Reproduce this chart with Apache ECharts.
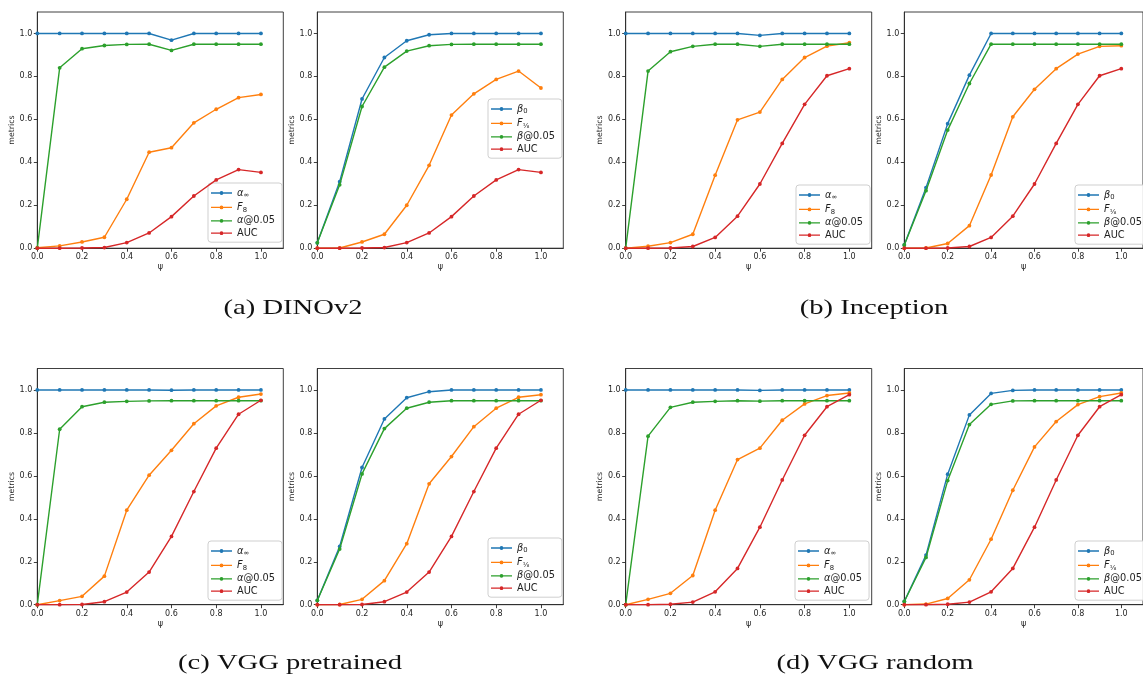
<!DOCTYPE html>
<html>
<head>
<meta charset="utf-8">
<script src="https://cdn.jsdelivr.net/npm/echarts@6/dist/echarts.min.js"></script>
<style>
html,body{margin:0;padding:0;background:#fff;}
#chart{width:1143px;height:679px;}
</style>
</head>
<body>
<div id="chart"></div>
<script>
// ---------------- data ----------------
const psi = [0.0, 0.1, 0.2, 0.3, 0.4, 0.5, 0.6, 0.7, 0.8, 0.9, 1.0];
const tickValues = [0.0, 0.2, 0.4, 0.6, 0.8, 1.0];

const leftNames  = ['α∞', 'F8', 'α@0.05', 'AUC'];
const rightNames = ['β0', 'F1/8', 'β@0.05', 'AUC'];
const captions = ['(a) DINOv2', '(b) Inception', '(c) VGG pretrained', '(d) VGG random'];

// (a) DINOv2
const dino_alphaInf  = [1, 1, 1, 1, 1, 1, 0.969, 1, 1, 1, 1];
const dino_F8        = [0.002, 0.011, 0.029, 0.051, 0.228, 0.447, 0.468, 0.584, 0.647, 0.701, 0.716];
const dino_alpha005  = [0, 0.840, 0.929, 0.944, 0.949, 0.950, 0.921, 0.950, 0.950, 0.950, 0.950];
const dino_AUC       = [0, 0, 0.001, 0.003, 0.026, 0.071, 0.147, 0.243, 0.318, 0.366, 0.353];
const dino_beta0     = [0.025, 0.310, 0.695, 0.888, 0.966, 0.994, 1, 1, 1, 1, 1];
const dino_F18       = [0, 0.001, 0.029, 0.065, 0.200, 0.386, 0.620, 0.719, 0.786, 0.825, 0.746];
const dino_beta005   = [0.025, 0.295, 0.660, 0.843, 0.918, 0.943, 0.949, 0.950, 0.950, 0.950, 0.950];

// (b) Inception
const inc_alphaInf   = [1, 1, 1, 1, 1, 1, 0.991, 1, 1, 1, 1];
const inc_F8         = [0, 0.009, 0.026, 0.065, 0.340, 0.598, 0.634, 0.786, 0.888, 0.941, 0.957];
const inc_alpha005   = [0, 0.825, 0.915, 0.940, 0.950, 0.950, 0.940, 0.950, 0.950, 0.950, 0.950];
const inc_AUC        = [0, 0, 0.001, 0.008, 0.050, 0.149, 0.299, 0.488, 0.670, 0.803, 0.836];
const inc_beta0      = [0.015, 0.282, 0.580, 0.806, 1, 1, 1, 1, 1, 1, 1];
const inc_F18        = [0, 0.001, 0.022, 0.105, 0.341, 0.612, 0.740, 0.836, 0.904, 0.940, 0.943];
const inc_beta005    = [0.015, 0.268, 0.550, 0.767, 0.950, 0.950, 0.950, 0.950, 0.950, 0.950, 0.950];

// (c) VGG pretrained
const vggp_alphaInf  = [1, 1, 1, 1, 1, 1, 0.999, 1, 1, 1, 1];
const vggp_F8        = [0, 0.019, 0.039, 0.133, 0.440, 0.603, 0.719, 0.843, 0.926, 0.966, 0.981];
const vggp_alpha005  = [0, 0.817, 0.922, 0.943, 0.947, 0.949, 0.950, 0.950, 0.950, 0.950, 0.950];
const vggp_AUC       = [0, 0, 0.001, 0.014, 0.059, 0.152, 0.318, 0.527, 0.729, 0.887, 0.952];
const vggp_beta0     = [0.020, 0.271, 0.639, 0.865, 0.964, 0.992, 1, 1, 1, 1, 1];
const vggp_F18       = [0, 0.001, 0.025, 0.112, 0.284, 0.563, 0.690, 0.829, 0.915, 0.966, 0.978];
const vggp_beta005   = [0.020, 0.259, 0.609, 0.820, 0.915, 0.943, 0.950, 0.950, 0.950, 0.950, 0.950];

// (d) VGG random
const vggr_alphaInf  = [1, 1, 1, 1, 1, 1, 0.998, 1, 1, 1, 1];
const vggr_F8        = [0, 0.025, 0.053, 0.136, 0.440, 0.676, 0.729, 0.859, 0.935, 0.974, 0.986];
const vggr_alpha005  = [0, 0.785, 0.919, 0.943, 0.947, 0.950, 0.948, 0.950, 0.950, 0.950, 0.950];
const vggr_AUC       = [0, 0, 0.002, 0.012, 0.060, 0.169, 0.361, 0.581, 0.789, 0.922, 0.978];
const vggr_beta0     = [0.015, 0.231, 0.608, 0.884, 0.984, 0.998, 1, 1, 1, 1, 1];
const vggr_F18       = [0, 0.003, 0.029, 0.116, 0.305, 0.533, 0.735, 0.853, 0.932, 0.969, 0.986];
const vggr_beta005   = [0.015, 0.220, 0.578, 0.839, 0.933, 0.949, 0.950, 0.950, 0.950, 0.950, 0.950];

// ---------------- layout / style ----------------
const colors = ['#1f77b4', '#ff7f0e', '#2ca02c', '#d62728'];
const textColor = '#1e1e1e';
const gridLefts = [37.3, 317.3, 625.7, 904.3];
const gridTops = [12, 368.5];
const gridW = 246, gridH = 236.2;

const panels = [
  { row: 0, col: 0, names: leftNames,  values: [dino_alphaInf, dino_F8, dino_alpha005, dino_AUC], leg: [208, 183] },
  { row: 0, col: 1, names: rightNames, values: [dino_beta0, dino_F18, dino_beta005, dino_AUC],    leg: [488, 99] },
  { row: 0, col: 2, names: leftNames,  values: [inc_alphaInf, inc_F8, inc_alpha005, inc_AUC],     leg: [796, 185] },
  { row: 0, col: 3, names: rightNames, values: [inc_beta0, inc_F18, inc_beta005, inc_AUC],        leg: [1075, 185] },
  { row: 1, col: 0, names: leftNames,  values: [vggp_alphaInf, vggp_F8, vggp_alpha005, vggp_AUC], leg: [208, 541] },
  { row: 1, col: 1, names: rightNames, values: [vggp_beta0, vggp_F18, vggp_beta005, vggp_AUC],    leg: [488, 538] },
  { row: 1, col: 2, names: leftNames,  values: [vggr_alphaInf, vggr_F8, vggr_alpha005, vggr_AUC], leg: [795, 541] },
  { row: 1, col: 3, names: rightNames, values: [vggr_beta0, vggr_F18, vggr_beta005, vggr_AUC],    leg: [1075, 541] }
];

const richLabel = {
  'α∞': '{it|α}{sub|∞}',
  'F8': '{it|F}{sub|8}',
  'α@0.05': '{it|α}{n|@0.05}',
  'AUC': '{n|AUC}',
  'β0': '{it|β}{sub|0}',
  'F1/8': '{it|F}{sub|⅛}',
  'β@0.05': '{it|β}{n|@0.05}'
};
const rich = {
  n:   { fontSize: 9.8, fontFamily: 'DejaVu Sans', color: textColor, lineHeight: 12 },
  it:  { fontSize: 9.8, fontFamily: 'DejaVu Sans', fontStyle: 'italic', color: textColor, lineHeight: 12 },
  sub: { fontSize: 6.8, fontFamily: 'DejaVu Sans', color: textColor, lineHeight: 12, padding: [5, 0, 0, 0] }
};

// legend icon: short line with a small dot in the middle (21 x 3.8 box)
const legendIcon = 'path://M0,1.25 L8.7,1.25 L8.7,2.55 L0,2.55 Z ' +
  'M12.3,1.25 L21,1.25 L21,2.55 L12.3,2.55 Z ' +
  'M8.6,1.9 A1.9,1.9 0 1 0 12.4,1.9 A1.9,1.9 0 1 0 8.6,1.9 Z';

const grid = [], xAxis = [], yAxis = [], series = [], legend = [];
const axisLineStyle = { color: '#2a2a2a', width: 0.9 };

panels.forEach((p, i) => {
  grid.push({
    left: gridLefts[p.col], top: gridTops[p.row], width: gridW, height: gridH,
    show: true, borderColor: '#2a2a2a', borderWidth: 0.9, backgroundColor: 'transparent',
    containLabel: false
  });
  xAxis.push({
    gridIndex: i, type: 'value', min: 0, max: 1.1,
    name: 'ψ', nameLocation: 'middle', nameGap: 15,
    nameTextStyle: { fontSize: 8, color: textColor, fontFamily: 'DejaVu Sans' },
    axisLine: { show: true, onZero: false, lineStyle: axisLineStyle },
    axisTick: { show: true, length: 3.5, inside: false, customValues: tickValues, lineStyle: axisLineStyle },
    axisLabel: { customValues: tickValues, fontSize: 8, margin: 5, color: textColor, fontFamily: 'DejaVu Sans',
                 formatter: v => v.toFixed(1) },
    splitLine: { show: false }
  });
  yAxis.push({
    gridIndex: i, type: 'value', min: 0, max: 1.1,
    name: 'metrics', nameLocation: 'middle', nameGap: 21,
    nameTextStyle: { fontSize: 7.8, color: textColor, fontFamily: 'DejaVu Sans' },
    axisLine: { show: true, onZero: false, lineStyle: axisLineStyle },
    axisTick: { show: true, length: 3.5, inside: false, customValues: tickValues, lineStyle: axisLineStyle },
    axisLabel: { customValues: tickValues, fontSize: 8, margin: 5, color: textColor, fontFamily: 'DejaVu Sans',
                 formatter: v => v.toFixed(1) },
    splitLine: { show: false }
  });
  p.names.forEach((nm, k) => {
    series.push({
      type: 'line', name: nm, xAxisIndex: i, yAxisIndex: i,
      data: psi.map((x, j) => [x, p.values[k][j]]),
      symbol: 'circle', symbolSize: 3.8, showSymbol: true,
      lineStyle: { width: 1.4, color: colors[k] },
      itemStyle: { color: colors[k] },
      z: 2 + k, animation: false, silent: true
    });
  });
  legend.push({
    data: p.names, orient: 'vertical', left: p.leg[0], top: p.leg[1],
    icon: legendIcon,
    itemWidth: 21, itemHeight: 3.8, itemGap: 2.4, itemTextGap: 7,
    padding: [4, 7, 4, 3],
    backgroundColor: 'rgba(255,255,255,0.85)', borderColor: '#cfcfcf', borderWidth: 1, borderRadius: 3,
    selectedMode: false,
    formatter: nm => richLabel[nm],
    textStyle: { rich: rich, fontSize: 9.8, color: textColor }
  });
});

const captionPos = [[293, 308], [874, 308], [290, 663], [875, 663]];
const graphic = captions.map((c, i) => ({
  type: 'text', x: captionPos[i][0], y: captionPos[i][1], scaleX: 1.3,
  style: { text: c, fontSize: 22, fontFamily: 'Liberation Serif', fill: '#111',
           align: 'center', verticalAlign: 'middle' }
}));

const chart = echarts.init(document.getElementById('chart'), null, { renderer: 'canvas' });
chart.setOption({
  animation: false,
  backgroundColor: '#fff',
  grid, xAxis, yAxis, series, legend, graphic
});
</script>
</body>
</html>
